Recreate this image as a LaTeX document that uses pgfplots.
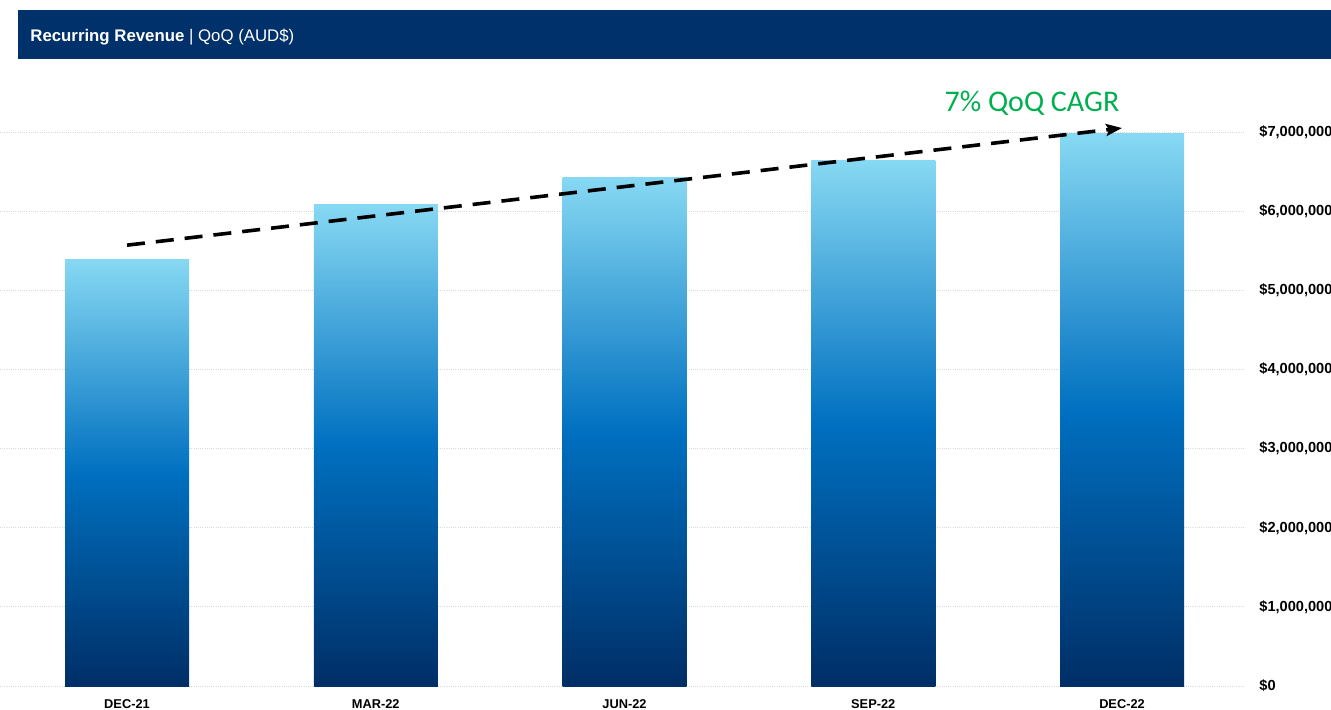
\documentclass[border=0pt]{standalone}
\usepackage{fontspec}
\setmainfont{Liberation Sans}
\newfontfamily\carlito{Carlito}
\usepackage{pgfplots}
\pgfplotsset{compat=1.18}
\usetikzlibrary{arrows.meta}
\definecolor{hdr}{RGB}{0,49,106}
\definecolor{bartop}{RGB}{135,217,243}
\definecolor{barmid}{RGB}{0,112,192}
\definecolor{barbot}{RGB}{0,46,102}
\definecolor{cagr}{RGB}{0,176,80}
\begin{document}
\begin{tikzpicture}
\clip (0,0) rectangle (665.5pt,354.5pt);
\begin{axis}[
 at={(0pt,11.5pt)}, anchor=south west,
 scale only axis, width=622.5pt, height=296.8pt,
 xmin=-0.5106, xmax=4.4945, ymin=0, ymax=7500000,
 axis line style={draw=none}, major tick length=0pt,
 xtick={0,1,2,3,4}, xticklabels={DEC-21,MAR-22,JUN-22,SEP-22,DEC-22},
 ytick={0,1000000,2000000,3000000,4000000,5000000,6000000,7000000},
 yticklabels={{\$0},{\$1,000,000},{\$2,000,000},{\$3,000,000},{\$4,000,000},{\$5,000,000},{\$6,000,000},{\$7,000,000}},
 scaled y ticks=false,
 yticklabel pos=right,
 ymajorgrids,
 grid style={gray!30, line width=0.45pt, dash pattern=on 0.5pt off 0.6pt},
 xticklabel style={font=\fontsize{6.4}{7}\selectfont\bfseries, anchor=center, yshift=-8.8pt, inner sep=0pt},
 yticklabel style={font=\fontsize{7.3}{8}\selectfont\bfseries, anchor=west, xshift=7pt, inner sep=0pt},
 clip=false,
 barstyle/.style={ybar, bar width=62pt, draw=none, top color=bartop, bottom color=barbot, middle color=barmid},
]
\addplot[barstyle] coordinates {(0,5395000)};
\addplot[barstyle] coordinates {(1,6090000)};
\addplot[barstyle] coordinates {(2,6430000)};
\addplot[barstyle] coordinates {(3,6646000)};
\addplot[barstyle] coordinates {(4,6975000)};
\addplot[black, line width=1.8pt, dash pattern=on 9pt off 5.5pt, -{Stealth[length=8pt, width=6pt, inset=1.5pt]}]
 coordinates {(0,5570000)(4,7050000)};
\node[text=cagr, font=\carlito\fontsize{15}{17}\selectfont, inner sep=0pt] at (axis cs:3.638,7367000) {7\% QoQ CAGR};
\end{axis}
\fill[hdr] (9pt,325pt) rectangle (665.5pt,349.25pt);
\node[anchor=base west, text=white, inner sep=0pt, font=\fontsize{8.4}{10}\selectfont] at (15pt,334pt) {\textbf{Recurring Revenue} | QoQ (AUD\$)};
\end{tikzpicture}
\end{document}
